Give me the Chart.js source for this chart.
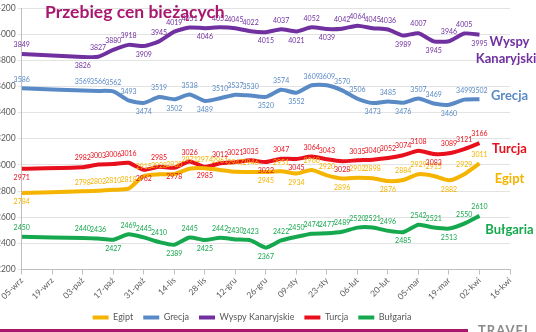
<!DOCTYPE html>
<html>
<head>
<meta charset="utf-8">
<script src="https://cdn.jsdelivr.net/npm/chart.js@4.4.0/dist/chart.umd.min.js"></script>
<style>
html,body{margin:0;padding:0;background:#fff;overflow:hidden;width:536px;height:332px}
#wrap{position:absolute;left:-6px;top:0;width:542px;height:332px}
#title{position:absolute;left:45px;top:1px;font:bold 17.5px Lato,sans-serif;color:#a8186e;white-space:nowrap}
#bar{position:absolute;left:0;top:329px;width:468px;height:3px;background:#a8186e}
#logo{position:absolute;left:478px;top:322px;font:bold 13px Lato,sans-serif;color:#8a8a8a;letter-spacing:1px}
</style>
</head>
<body>
<div id="wrap"><canvas id="wykres"></canvas></div>
<div id="title">Przebieg cen bieżących</div>
<div id="bar"></div>
<div id="logo">TRAVEL</div>
<script>
var daty = ['2015-09-05','2015-10-03','2015-10-10','2015-10-17','2015-10-24','2015-10-31','2015-11-07','2015-11-14',
  '2015-11-21','2015-11-28','2015-12-05','2015-12-12','2015-12-19','2015-12-26','2016-01-02','2016-01-09','2016-01-16',
  '2016-01-23','2016-01-30','2016-02-06','2016-02-13','2016-02-20','2016-02-27','2016-03-05','2016-03-12','2016-03-19',
  '2016-03-26','2016-04-02']
var miesiace = ['sty','lut','mar','kwi','maj','cze','lip','sie','wrz','paź','lis','gru']

var egipt    = [2784,2798,2802,2810,2818,2915,2928,2930,2971,2974,2961,2947,2946,2945,2951,2934,2960,2920,2896,2902,2898,2876,2884,2929,2915,2882,2929,3011]
var grecja   = [3586,3569,3566,3562,3493,3474,3519,3502,3538,3489,3510,3537,3530,3520,3574,3552,3609,3609,3570,3506,3473,3485,3476,3507,3469,3460,3499,3502]
var kanary   = [3849,3826,3827,3880,3918,3909,3945,4019,4051,4046,4052,4045,4022,4015,4037,4021,4052,4039,4042,4064,4045,4036,3989,4007,3945,3946,4005,3995]
var turcja   = [2971,2982,3003,3006,3016,2962,2985,2978,3026,2985,3012,3021,3035,3022,3047,3045,3064,3043,3028,3035,3040,3052,3074,3108,3083,3089,3121,3166]
var bulgaria = [2450,2440,2436,2427,2469,2445,2410,2389,2445,2425,2442,2430,2423,2367,2422,2450,2474,2477,2489,2520,2521,2496,2485,2542,2521,2513,2550,2610]

var start = Date.parse(daty[0])
var dni = daty.map(d => (Date.parse(d) - start) / 86400000)
function punkty(arr) { return arr.map((v, i) => ({x: dni[i], y: v})) }

function seria(label, arr, kolor, nazwa, dy) {
  return {
    label: label, data: punkty(arr),
    borderColor: kolor, backgroundColor: kolor,
    borderWidth: 4, pointRadius: 0, tension: 0.2,
    koniec: {tekst: nazwa, dy: dy}
  }
}

// podpisy wartosci przy punktach + nazwy na koncu linii
var etykiety = {
  id: 'etykiety',
  afterDatasetsDraw(chart) {
    var ctx = chart.ctx
    chart.data.datasets.forEach((ds, i) => {
      var meta = chart.getDatasetMeta(i)
      ctx.save()
      ctx.fillStyle = ds.borderColor
      ctx.textAlign = 'center'
      ctx.textBaseline = 'middle'
      ctx.font = '7px Lato, sans-serif'
      meta.data.forEach((pt, j) => {
        var v = ds.data[j].y
        var prev = j > 0 ? ds.data[j-1].y : Infinity
        var next = j < ds.data.length-1 ? ds.data[j+1].y : Infinity
        var dol = v < prev && v <= next
        ctx.fillText(v, pt.x, pt.y + (dol ? 9 : -9))
      })
      var last = meta.data[meta.data.length-1]
      ctx.font = 'bold 13px Lato, sans-serif'
      ds.koniec.tekst.forEach((t, k) => {
        ctx.fillText(t, last.x + 30, last.y + ds.koniec.dy + k*17)
      })
      ctx.restore()
    })
  }
}

new Chart(document.getElementById('wykres'), {
  type: 'line',
  data: {
    datasets: [
      seria('Egipt', egipt, '#f5b400', ['Egipt'], 15),
      seria('Grecja', grecja, '#5a8ac6', ['Grecja'], -3),
      seria('Wyspy Kanaryjskie', kanary, '#7030a0', ['Wyspy', 'Kanaryjskie'], 7),
      seria('Turcja', turcja, '#e8101c', ['Turcja'], 6),
      seria('Bułgaria', bulgaria, '#16a84e', ['Bułgaria'], 14)
    ]
  },
  plugins: [etykiety],
  options: {
    responsive: true,
    maintainAspectRatio: false,
    animation: false,
    layout: {padding: {top: 8, right: 26, bottom: 0, left: 0}},
    plugins: {
      tooltip: {enabled: false},
      legend: {
        position: 'bottom',
        labels: {
          boxWidth: 16, boxHeight: 4, padding: 10,
          color: '#595959', font: {size: 9, family: 'Lato, sans-serif'},
          generateLabels(chart) {
            var items = Chart.defaults.plugins.legend.labels.generateLabels(chart)
            items.forEach(it => { it.lineWidth = 0 })
            return items
          }
        }
      }
    },
    scales: {
      x: {
        type: 'linear', min: 0, max: 224,
        grid: {drawOnChartArea: false, tickLength: 5, color: '#bfbfbf'},
        border: {color: '#bfbfbf'},
        ticks: {
          stepSize: 14, maxRotation: 45, minRotation: 45, autoSkip: false,
          color: '#595959', font: {size: 8.5, family: 'Lato, sans-serif'}, padding: 1,
          callback: function (v) {
            var d = new Date(start + v * 86400000)
            var dd = String(d.getUTCDate()).padStart(2, '0')
            return dd + '-' + miesiace[d.getUTCMonth()]
          }
        }
      },
      y: {
        min: 2200, max: 4200,
        grid: {color: '#e3e3e3', tickLength: 4},
        border: {color: '#bfbfbf'},
        ticks: {
          stepSize: 200, color: '#595959', font: {size: 8.5, family: 'Lato, sans-serif'}, padding: 2,
          callback: v => String(v)
        }
      }
    }
  }
})
</script>
</body>
</html>
